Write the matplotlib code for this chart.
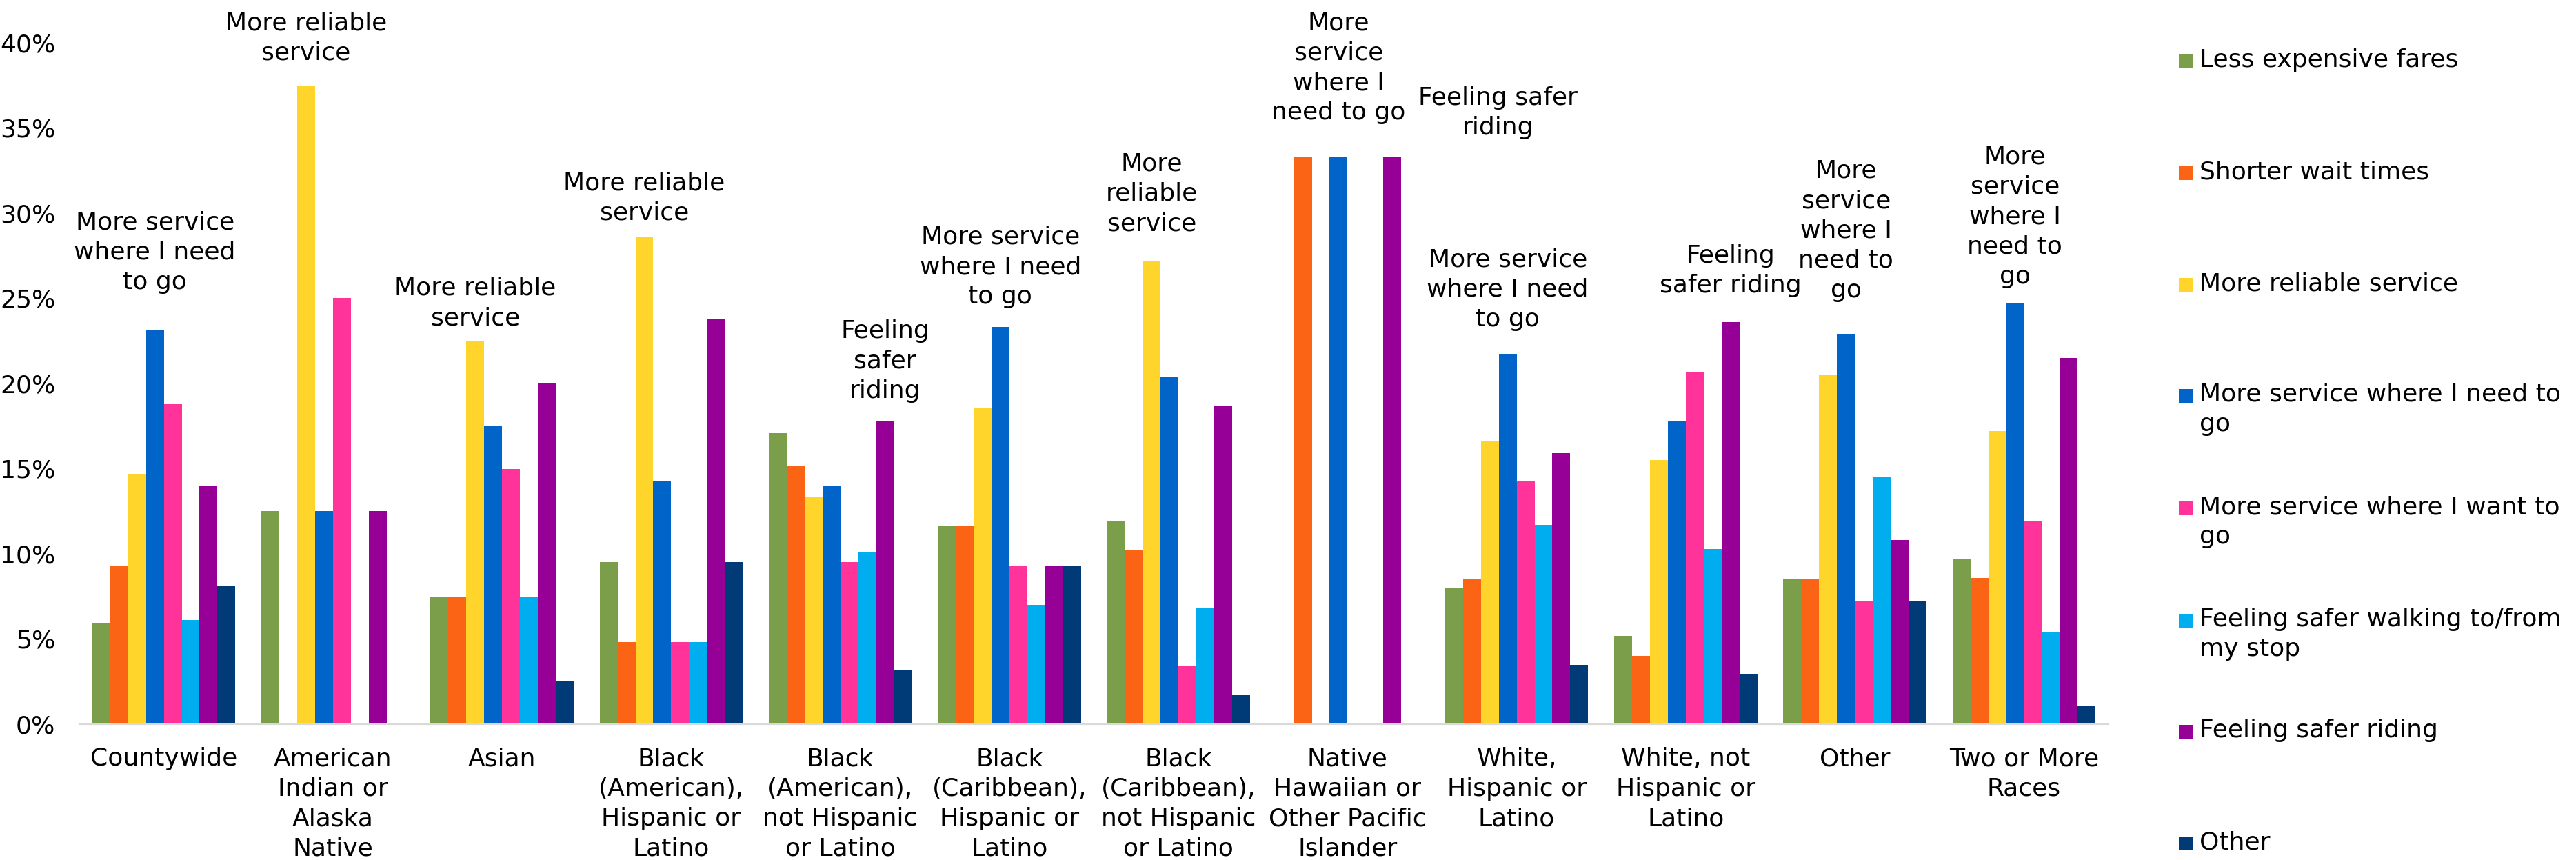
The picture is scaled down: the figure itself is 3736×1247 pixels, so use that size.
import numpy as np
import matplotlib
matplotlib.use("Agg")
import matplotlib.pyplot as plt
import matplotlib.ticker as mtick
from matplotlib.patches import Rectangle

plt.rcParams["font.family"] = ["DejaVu Sans"]

# Categories (x axis)
groups = [
    "Countywide",
    "American\nIndian or\nAlaska\nNative",
    "Asian",
    "Black\n(American),\nHispanic or\nLatino",
    "Black\n(American),\nnot Hispanic\nor Latino",
    "Black\n(Caribbean),\nHispanic or\nLatino",
    "Black\n(Caribbean),\nnot Hispanic\nor Latino",
    "Native\nHawaiian or\nOther Pacific\nIslander",
    "White,\nHispanic or\nLatino",
    "White, not\nHispanic or\nLatino",
    "Other",
    "Two or More\nRaces",
]

# Series values, percent of respondents
less_expensive = [5.9, 12.5, 7.5, 9.5, 17.1, 11.6, 11.9, 0, 8.0, 5.2, 8.5, 9.7]
shorter_wait = [9.3, 0, 7.5, 4.8, 15.2, 11.6, 10.2, 33.3, 8.5, 4.0, 8.5, 8.6]
more_reliable = [14.7, 37.5, 22.5, 28.6, 13.3, 18.6, 27.2, 0, 16.6, 15.5, 20.5, 17.2]
need_to_go = [23.1, 12.5, 17.5, 14.3, 14.0, 23.3, 20.4, 33.3, 21.7, 17.8, 22.9, 24.7]
want_to_go = [18.8, 25.0, 15.0, 4.8, 9.5, 9.3, 3.4, 0, 14.3, 20.7, 7.2, 11.9]
safer_walking = [6.1, 0, 7.5, 4.8, 10.1, 7.0, 6.8, 0, 11.7, 10.3, 14.5, 5.4]
safer_riding = [14.0, 12.5, 20.0, 23.8, 17.8, 9.3, 18.7, 33.3, 15.9, 23.6, 10.8, 21.5]
other = [8.1, 0, 2.5, 9.5, 3.2, 9.3, 1.7, 0, 3.5, 2.9, 7.2, 1.1]

series = [less_expensive, shorter_wait, more_reliable, need_to_go,
          want_to_go, safer_walking, safer_riding, other]
series_names = [
    "Less expensive fares",
    "Shorter wait times",
    "More reliable service",
    "More service where I need to\ngo",
    "More service where I want to\ngo",
    "Feeling safer walking to/from\nmy stop",
    "Feeling safer riding",
    "Other",
]
colors = ["#7A9E4A", "#FB6414", "#FFD52B", "#0064C8",
          "#FF3399", "#00AEEF", "#960096", "#003B78"]

# Top-answer labels: (group, series index, text)
top_labels = [
    (0, 3, "More service\nwhere I need\nto go"),
    (1, 2, "More reliable\nservice"),
    (2, 2, "More reliable\nservice"),
    (3, 2, "More reliable\nservice"),
    (4, 6, "Feeling\nsafer\nriding"),
    (5, 3, "More service\nwhere I need\nto go"),
    (6, 2, "More\nreliable\nservice"),
    (7, 3, "More\nservice\nwhere I\nneed to go"),
    (7, 6, "Feeling safer\nriding"),
    (8, 3, "More service\nwhere I need\nto go"),
    (9, 6, "Feeling\nsafer riding"),
    (10, 3, "More\nservice\nwhere I\nneed to\ngo"),
    (11, 3, "More\nservice\nwhere I\nneed to\ngo"),
]
# label offsets in pixels (dx, dy) from the bar top
label_offsets = [(0, 60), (0, 37), (0, 23), (0, 25), (0, 33), (0, 34), (0, 44),
                 (0, 54), (153, 32), (0, 41), (0, 43), (0, 53), (0, 29)]

FS = 26
LS = 1.35
W, H = 3737, 1247
fig = plt.figure(figsize=(W / 100, H / 100), dpi=100)
ax = fig.add_axes([115 / W, (H - 1050) / H, (3058 - 115) / W, (1050 - 62) / H])

x = np.arange(len(groups))
n = len(series)
bw = 0.8455 / n
for i, (vals, col) in enumerate(zip(series, colors)):
    ax.bar(x + (i - (n - 1) / 2) * bw, vals, width=bw, color=col, linewidth=0)

for (g, s, txt), (dx, dy) in zip(top_labels, label_offsets):
    bx = g + (s - (n - 1) / 2) * bw
    ax.annotate(txt, xy=(bx, series[s][g]), xytext=(dx, dy),
                textcoords="offset pixels", ha="center", va="baseline",
                fontsize=FS, linespacing=LS, color="black",
                annotation_clip=False)

ax.set_xlim(-0.5, len(groups) - 0.5)
ax.set_ylim(0, 40)
ax.yaxis.set_major_locator(mtick.MultipleLocator(5))
ax.yaxis.set_major_formatter(mtick.PercentFormatter(decimals=0))
ax.set_xticks(x)
ax.set_xticklabels(groups, linespacing=LS)
ax.tick_params(axis="x", length=0, pad=24, labelsize=FS)
ax.tick_params(axis="y", length=0, pad=25, labelsize=FS)
for side in ["top", "right", "left"]:
    ax.spines[side].set_visible(False)
ax.spines["bottom"].set_color("#D9D9D9")
ax.spines["bottom"].set_linewidth(1.6)

# Legend drawn manually so markers line up with first text line
leg_y = [89, 251, 413, 574, 737, 900, 1061, 1223]
for name, col, yc in zip(series_names, colors, leg_y):
    fig.add_artist(Rectangle((3160 / W, (H - yc - 10) / H), 20 / W, 20 / H,
                             transform=fig.transFigure, color=col, lw=0))
    fig.text(3190 / W, (H - yc + 19) / H, name, fontsize=FS, va="top",
             ha="left", linespacing=LS, color="black")

fig.savefig("out.png", dpi=100)
